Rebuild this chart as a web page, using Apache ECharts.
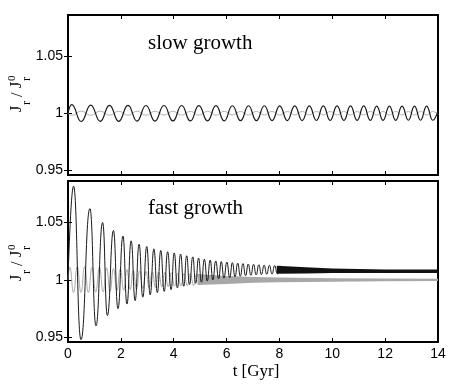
<!DOCTYPE html>
<html>
<head>
<meta charset="utf-8">
<script src="https://cdn.jsdelivr.net/npm/echarts@6/dist/echarts.min.js"></script>
<style>
  html, body { margin: 0; padding: 0; background: #fff; }
  #main { width: 458px; height: 389px; }
</style>
</head>
<body>
<div id="main"></div>
<script>
// tick values
var xTicks = [0, 2, 4, 6, 8, 10, 12, 14];
var yTicks = [0.95, 1, 1.05];

// slow growth: extrema (t in Gyr)
var slowT = [0, 0.14, 0.50, 0.86, 1.22, 1.57, 1.92, 2.27, 2.61, 2.95, 3.29, 3.63, 3.97, 4.30, 4.63, 4.95,
  5.28, 5.60, 5.91, 6.22, 6.53, 6.83, 7.13, 7.43, 7.72, 8.01, 8.30, 8.58, 8.86, 9.13, 9.40, 9.66,
  9.92, 10.18, 10.44, 10.69, 10.94, 11.19, 11.44, 11.68, 11.92, 12.16, 12.40, 12.64, 12.88, 13.11,
  13.34, 13.57, 13.80, 14.0];
var slowBlack = [1.000, 1.0075, 0.9928, 1.0072, 0.9930, 1.0070, 0.9930, 1.0070, 0.9932, 1.0068, 0.9932,
  1.0068, 0.9933, 1.0068, 0.9933, 1.0067, 0.9934, 1.0067, 0.9934, 1.0066, 0.9935, 1.0066, 0.9935,
  1.0066, 0.9936, 1.0065, 0.9936, 1.0065, 0.9936, 1.0065, 0.9937, 1.0064, 0.9937, 1.0064, 0.9937,
  1.0064, 0.9938, 1.0064, 0.9938, 1.0063, 0.9938, 1.0063, 0.9938, 1.0063, 0.9939, 1.0063, 0.9939,
  1.0062, 0.9939, 1.0025];
var slowGray = [1.000, 0.9982, 1.0019, 0.9982, 1.0019, 0.9983, 1.0018, 0.9983, 1.0018, 0.9983, 1.0018,
  0.9984, 1.0017, 0.9984, 1.0017, 0.9984, 1.0017, 0.9984, 1.0017, 0.9985, 1.0016, 0.9985, 1.0016,
  0.9985, 1.0016, 0.9985, 1.0016, 0.9985, 1.0016, 0.9985, 1.0016, 0.9985, 1.0016, 0.9985, 1.0016,
  0.9985, 1.0016, 0.9985, 1.0016, 0.9985, 1.0016, 0.9985, 1.0016, 0.9985, 1.0016, 0.9985, 1.0016,
  0.9985, 1.0016, 0.999];

// fast growth, black: resolvable extrema, then the dense band envelope
var fastBlackT = [0, 0.21, 0.49, 0.83, 1.06, 1.31, 1.49, 1.72, 1.89, 2.08, 2.23, 2.39, 2.54, 2.69, 2.83,
  2.98, 3.11, 3.25, 3.38, 3.51, 3.64, 3.77, 3.90, 4.02, 4.14, 4.26, 4.38, 4.49, 4.60, 4.72, 4.83,
  4.94, 5.05, 5.16, 5.27, 5.38, 5.48, 5.59, 5.70, 5.80, 5.90, 6.01, 6.12, 6.22, 6.32, 6.42, 6.52,
  6.62, 6.72, 6.82, 6.92, 7.02, 7.12, 7.22, 7.32, 7.42, 7.52, 7.62, 7.72, 7.82, 7.92, 8.02];
var fastBlack = [1.000, 1.0815, 0.948, 1.062, 0.960, 1.050, 0.969, 1.043, 0.975, 1.038, 0.979, 1.034,
  0.982, 1.031, 0.985, 1.029, 0.987, 1.027, 0.989, 1.0256, 0.990, 1.0245, 0.9915, 1.0235, 0.993,
  1.0225, 0.9945, 1.021, 0.996, 1.020, 0.997, 1.019, 0.998, 1.018, 0.999, 1.0172, 1.000, 1.0165,
  1.001, 1.016, 1.0015, 1.0155, 1.002, 1.015, 1.0027, 1.0146, 1.0032, 1.0142, 1.0036, 1.0138,
  1.004, 1.0135, 1.0043, 1.0132, 1.0046, 1.0129, 1.0049, 1.0127, 1.0051, 1.0125, 1.0053, 1.0123];
var blackBandT = [7.9, 9, 10, 11, 12, 13, 14];
var blackBandLow = [1.0053, 1.0056, 1.006, 1.006, 1.006, 1.006, 1.006];
var blackBandHigh = [1.0124, 1.011, 1.010, 1.0095, 1.009, 1.009, 1.009];

// fast growth, gray
var fastGrayT = [0, 0.07, 0.21, 0.35, 0.49, 0.63, 0.77, 0.91, 1.05, 1.19, 1.33, 1.46, 1.59, 1.72, 1.85,
  1.98, 2.11, 2.23, 2.35, 2.47, 2.59, 2.71, 2.83, 2.95, 3.07, 3.19, 3.31, 3.43, 3.55, 3.67, 3.79,
  3.91, 4.03, 4.15, 4.27, 4.39, 4.51, 4.63, 4.75, 4.87, 4.99];
var fastGray = [1.000, 1.011, 0.989, 1.0115, 0.989, 1.0115, 0.989, 1.011, 0.9895, 1.011, 0.9895, 1.0105,
  0.990, 1.010, 0.9905, 1.0095, 0.991, 1.009, 0.9915, 1.0085, 0.992, 1.008, 0.9925, 1.0075, 0.993,
  1.007, 0.9935, 1.0068, 0.994, 1.0065, 0.9942, 1.0062, 0.9945, 1.006, 0.9947, 1.0057, 0.995,
  1.0055, 0.9952, 1.0052, 0.9955];
var grayBandT = [4.9, 6, 7, 8, 10, 12, 14];
var grayBandLow = [0.9955, 0.9965, 0.9975, 0.998, 0.9985, 0.9988, 0.999];
var grayBandHigh = [1.0052, 1.0035, 1.0025, 1.002, 1.0015, 1.0012, 1.001];

var triples = function (ts, lo, hi) { return ts.map(function (t, i) { return [t, lo[i], hi[i]]; }); };
var pairs = function (ts, vs) { return ts.map(function (t, i) { return [t, vs[i]]; }); };

var chart = echarts.init(document.getElementById('main'), null, { renderer: 'canvas' });

var sans = '"Liberation Sans", Arial, sans-serif';
var serif = '"Liberation Serif", "Times New Roman", serif';

function xAx(grid, pos, labels) {
  return {
    type: 'value', gridIndex: grid, position: pos, min: 0, max: 14, interval: 2,
    axisLine: { show: false },
    axisTick: { show: true, inside: true, length: 4, lineStyle: { color: '#000', width: 1 } },
    axisLabel: { show: labels, margin: 5, color: '#000', fontFamily: sans, fontSize: 14 },
    splitLine: { show: false }
  };
}
function yAx(grid, pos, labels) {
  return {
    type: 'value', gridIndex: grid, position: pos, min: 0.946, max: 1.086,
    axisLine: { show: false },
    axisTick: { show: true, inside: true, length: 4, customValues: yTicks, lineStyle: { color: '#000', width: 1 } },
    axisLabel: {
      show: labels, customValues: yTicks, margin: 5, color: '#000', fontFamily: sans, fontSize: 14,
      formatter: function (v) { return String(Math.round(v * 100) / 100); }
    },
    splitLine: { show: false }
  };
}

function lineS(xi, yi, data, color, width, z) {
  return {
    type: 'line', xAxisIndex: xi, yAxisIndex: yi, data: data, symbol: 'none',
    smooth: 0.5, smoothMonotone: 'x', silent: true, z: z,
    lineStyle: { color: color, width: width }
  };
}

// dense part of an oscillation: filled between its lower and upper envelope
function bandS(xi, yi, ts, lo, hi, fill, z) {
  var data = triples(ts, lo, hi);
  return {
    type: 'custom', xAxisIndex: xi, yAxisIndex: yi, data: data, silent: true, z: z,
    encode: { x: 0, y: [1, 2] },
    renderItem: function (params, api) {
      if (params.dataIndex !== 0) return;
      var pts = [];
      for (var i = 0; i < data.length; i++) pts.push(api.coord([data[i][0], data[i][2]]));
      for (var j = data.length - 1; j >= 0; j--) pts.push(api.coord([data[j][0], data[j][1]]));
      return { type: 'polygon', shape: { points: pts, smooth: 0 }, style: { fill: fill, stroke: null } };
    }
  };
}

function yLabel(yBase) {
  return {
    type: 'group', x: 0, y: yBase, rotation: Math.PI / 2,
    children: [
      { type: 'text', x: 0, y: 17, style: { text: 'J', font: '16px ' + serif, fill: '#000', verticalAlign: 'middle' } },
      { type: 'text', x: 7, y: 27, style: { text: 'r', font: '12px ' + serif, fill: '#000', verticalAlign: 'middle' } },
      { type: 'text', x: 15, y: 18, style: { text: '/', font: '16px ' + serif, fill: '#000', verticalAlign: 'middle' } },
      { type: 'text', x: 24, y: 17, style: { text: 'J', font: '16px ' + serif, fill: '#000', verticalAlign: 'middle' } },
      { type: 'text', x: 31, y: 27, style: { text: 'r', font: '12px ' + serif, fill: '#000', verticalAlign: 'middle' } },
      { type: 'text', x: 31, y: 12, style: { text: '0', font: '11px ' + serif, fill: '#000', verticalAlign: 'middle' } }
    ]
  };
}

var series = [
  lineS(0, 0, pairs(slowT, slowGray), '#b4b4b4', 1, 2),
  lineS(0, 0, pairs(slowT, slowBlack), '#1a1a1a', 1.2, 3),
  bandS(2, 2, grayBandT, grayBandLow, grayBandHigh, '#a8a8a8', 2),
  lineS(2, 2, pairs(fastGrayT, fastGray), '#a8a8a8', 1, 2),
  lineS(2, 2, pairs(fastBlackT, fastBlack), '#1a1a1a', 1, 3),
  bandS(2, 2, blackBandT, blackBandLow, blackBandHigh, '#111', 3)
];

var option = {
  animation: false,
  backgroundColor: '#fff',
  grid: [
    { left: 68, right: 20, top: 15, height: 160, show: true, borderColor: '#000', borderWidth: 2, backgroundColor: 'transparent' },
    { left: 68, right: 20, top: 181, height: 161, show: true, borderColor: '#000', borderWidth: 2, backgroundColor: 'transparent' }
  ],
  xAxis: [xAx(0, 'bottom', false), xAx(0, 'top', false), xAx(1, 'bottom', true), xAx(1, 'top', false)],
  yAxis: [yAx(0, 'left', true), yAx(0, 'right', false), yAx(1, 'left', true), yAx(1, 'right', false)],
  series: series,
  graphic: [
    { type: 'text', left: 148, top: 33, style: { text: 'slow growth', font: '21px ' + serif, fill: '#000' } },
    { type: 'text', left: 148, top: 198, style: { text: 'fast growth', font: '21px ' + serif, fill: '#000' } },
    { type: 'text', x: 256, y: 372, style: { text: 't [Gyr]', font: '17px ' + serif, fill: '#000', align: 'center', verticalAlign: 'middle' } },
    yLabel(112),
    yLabel(281)
  ]
};

chart.setOption(option);
</script>
</body>
</html>
